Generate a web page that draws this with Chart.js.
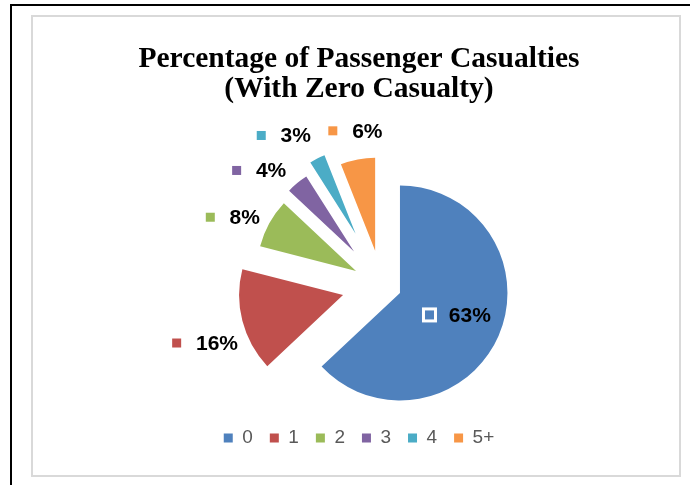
<!DOCTYPE html>
<html>
<head>
<meta charset="utf-8">
<script src="https://cdn.jsdelivr.net/npm/chart.js@4.4.0/dist/chart.umd.min.js"></script>
<style>
  html, body { margin: 0; padding: 0; background: #fff; }
  body { width: 690px; height: 485px; position: relative; overflow: hidden; }
  #outer { position: absolute; left: 10px; top: 4px; width: 700px; height: 500px;
           border-left: 2px solid #000; border-top: 2px solid #000; }
  #frame { position: absolute; left: 31px; top: 15px; width: 646px; height: 458px;
           border: 2px solid #d9d9d9; }
  canvas { position: absolute; left: 0; top: 0; }
</style>
</head>
<body>
<div id="outer"></div>
<div id="frame"></div>
<canvas id="chart" width="690" height="485"></canvas>
<script>
// Number of casualties per accident (category) and share of passengers (%)
const categories = ['0', '1', '2', '3', '4', '5+'];
const percentages = [63, 16, 8, 4, 3, 6];
const titleLines = ['Percentage of Passenger Casualties', '(With Zero Casualty)'];

// Styling
const sliceColors = ['#4F81BD', '#C0504D', '#9BBB59', '#8064A2', '#4BACC6', '#F79646'];
const pieRadius = 107.5;                                  // px, largest slice
const explode = [19.9, 39.9, 29.3, 43.5, 57.5, 35];        // px each slice is pulled out
const radiusScale = [1, 0.967, 0.921, 0.828, 0.786, 0.865]; // outer radius per slice
// label key placement from the slice tip: [along the bisector, across it]
const labelPlace = [[35.8, 8.4], [173.1, -5.1], [153.6, -23.1], [137.3, -38.7], [130.5, -39.4], [125.7, -19.1]];
const leftGutter = 45.4;                                  // extra room left of the pie

// Reserves space on the left so the pie sits right of the title/legend centre
const pieGutter = {
  id: 'pieGutter',
  beforeInit(chart) {
    Chart.layouts.addBox(chart, {
      position: 'left', weight: 0, fullSize: false, width: 0, height: 0,
      options: {},
      update(maxW, maxH) { this.width = leftGutter; this.height = maxH; },
      isHorizontal() { return false; },
      draw() {}
    });
  }
};

// Pulls each slice out along its bisector and sets its own radius
const explodeSlices = {
  id: 'explodeSlices',
  afterDatasetUpdate(chart, args) {
    args.meta.data.forEach((arc, i) => {
      const mid = (arc.startAngle + arc.endAngle) / 2;
      arc.x += Math.cos(mid) * explode[i];
      arc.y += Math.sin(mid) * explode[i];
      arc.outerRadius *= radiusScale[i];
    });
  }
};

// Value labels with a colour key, placed from each slice's tip
const sliceLabels = {
  id: 'sliceLabels',
  afterDatasetsDraw(chart) {
    const meta = chart.getDatasetMeta(0);
    const ctx = chart.ctx;
    ctx.save();
    ctx.font = 'bold 21px "Liberation Sans", Arial, sans-serif';
    ctx.textBaseline = 'middle';
    ctx.textAlign = 'left';
    meta.data.forEach((arc, i) => {
      const mid = (arc.startAngle + arc.endAngle) / 2;
      const ux = Math.cos(mid), uy = Math.sin(mid);
      const [a, b] = labelPlace[i];
      const kx = arc.x + a * ux - b * uy;
      const ky = arc.y + a * uy + b * ux;
      ctx.fillStyle = '#fff';
      ctx.fillRect(kx - 7.5, ky - 7.5, 15, 15);
      ctx.fillStyle = sliceColors[i];
      ctx.fillRect(kx - 4.5, ky - 4.5, 9, 9);
      ctx.fillStyle = '#000';
      ctx.fillText(percentages[i] + '%', kx + 19.3, ky + 1);
    });
    ctx.restore();
  }
};

new Chart(document.getElementById('chart'), {
  type: 'pie',
  data: {
    labels: categories,
    datasets: [{
      data: percentages,
      backgroundColor: sliceColors,
      borderWidth: 0,
      radius: pieRadius
    }]
  },
  options: {
    responsive: false,
    animation: false,
    events: [],
    layout: { padding: { top: 0, left: 38, right: 10, bottom: 27.5 } },
    plugins: {
      title: {
        display: true,
        text: titleLines,
        color: '#000',
        font: { family: '"Liberation Serif", "Times New Roman", serif', size: 29.5, weight: 'bold', lineHeight: 30 / 29.5 },
        padding: { top: 44.5, bottom: 54.2 }
      },
      legend: {
        position: 'bottom',
        labels: {
          boxWidth: 9, boxHeight: 9, padding: 17,
          color: '#595959',
          font: { family: '"Liberation Sans", Arial, sans-serif', size: 19 }
        }
      },
      tooltip: { enabled: false }
    }
  },
  plugins: [pieGutter, explodeSlices, sliceLabels]
});
</script>
</body>
</html>
